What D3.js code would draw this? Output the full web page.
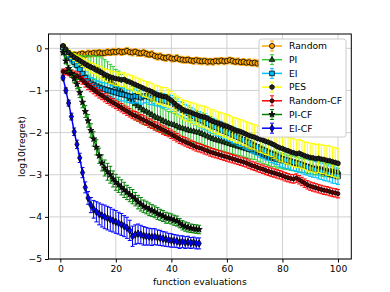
<!DOCTYPE html>
<html>
<head>
<meta charset="utf-8">
<script src="https://cdn.jsdelivr.net/npm/d3@7"></script>
<style>
body { margin: 0; background: #fff; }
svg { display: block; font-family: "DejaVu Sans", sans-serif; }
</style>
</head>
<body>
<script>
// series names, in draw order
const names = ["Random", "PI", "EI", "PES", "Random-CF", "PI-CF", "EI-CF"];

// mean log10(regret) per function evaluation (x = 1..N)
const randomMean = [
  0.05,-0.08,-0.14,-0.16,-0.15,-0.17,-0.14,-0.13,-0.15,-0.12,
  -0.13,-0.11,-0.12,-0.10,-0.12,-0.11,-0.09,-0.10,-0.08,-0.09,
  -0.07,-0.09,-0.08,-0.06,-0.09,-0.10,-0.08,-0.11,-0.12,-0.10,
  -0.13,-0.15,-0.14,-0.18,-0.20,-0.19,-0.22,-0.23,-0.21,-0.24,
  -0.25,-0.23,-0.26,-0.27,-0.28,-0.27,-0.29,-0.30,-0.28,-0.30,
  -0.31,-0.30,-0.32,-0.31,-0.32,-0.30,-0.31,-0.29,-0.31,-0.30,
  -0.28,-0.30,-0.32,-0.31,-0.33,-0.32,-0.34,-0.33,-0.35,-0.34,
  -0.36,-0.35,-0.37,-0.36,-0.38,-0.37,-0.38,-0.39,-0.38,-0.40,
  -0.39,-0.40,-0.41,-0.40,-0.42,-0.41,-0.42,-0.43,-0.42,-0.43,
  -0.44,-0.43,-0.44,-0.45,-0.44,-0.45,-0.46,-0.45,-0.46,-0.47];
const piMean = [
  0.02,-0.08,-0.15,-0.22,-0.28,-0.32,-0.35,-0.38,-0.40,-0.42,
  -0.44,-0.46,-0.49,-0.52,-0.58,-0.65,-0.72,-0.78,-0.85,-0.90,
  -0.96,-1.02,-1.08,-1.13,-1.20,-1.26,-1.32,-1.37,-1.42,-1.47,
  -1.50,-1.54,-1.58,-1.62,-1.65,-1.68,-1.72,-1.75,-1.78,-1.80,
  -1.82,-1.85,-1.88,-1.90,-1.92,-1.94,-1.96,-1.97,-1.99,-2.00,
  -2.03,-2.06,-2.09,-2.12,-2.15,-2.17,-2.19,-2.21,-2.23,-2.25,
  -2.27,-2.29,-2.31,-2.33,-2.35,-2.37,-2.39,-2.41,-2.43,-2.45,
  -2.48,-2.51,-2.54,-2.57,-2.60,-2.62,-2.63,-2.65,-2.66,-2.68,
  -2.69,-2.71,-2.72,-2.74,-2.75,-2.76,-2.78,-2.79,-2.80,-2.82,
  -2.83,-2.84,-2.85,-2.86,-2.88,-2.89,-2.90,-2.91,-2.92,-2.93];
const eiMean = [
  0.02,-0.10,-0.18,-0.25,-0.33,-0.40,-0.50,-0.60,-0.70,-0.78,
  -0.83,-0.87,-0.90,-0.93,-0.95,-0.97,-0.99,-1.01,-1.03,-1.05,
  -1.07,-1.09,-1.10,-1.12,-1.14,-1.15,-1.13,-1.15,-1.17,-1.14,
  -1.13,-1.16,-1.18,-1.19,-1.21,-1.22,-1.24,-1.25,-1.27,-1.29,
  -1.33,-1.38,-1.43,-1.47,-1.50,-1.54,-1.58,-1.61,-1.65,-1.68,
  -1.71,-1.74,-1.78,-1.81,-1.84,-1.87,-1.90,-1.93,-1.96,-1.99,
  -2.02,-2.05,-2.08,-2.11,-2.14,-2.17,-2.21,-2.24,-2.28,-2.31,
  -2.34,-2.38,-2.41,-2.44,-2.47,-2.50,-2.53,-2.56,-2.59,-2.62,
  -2.64,-2.66,-2.68,-2.70,-2.72,-2.74,-2.76,-2.79,-2.81,-2.84,
  -2.86,-2.88,-2.90,-2.92,-2.94,-2.96,-2.98,-3.00,-3.02,-3.04];
const pesMean = [
  0.06,-0.02,-0.10,-0.16,-0.21,-0.25,-0.29,-0.33,-0.37,-0.41,
  -0.45,-0.48,-0.52,-0.55,-0.58,-0.62,-0.65,-0.68,-0.70,-0.72,
  -0.73,-0.75,-0.74,-0.78,-0.80,-0.83,-0.86,-0.89,-0.92,-0.95,
  -0.98,-1.00,-1.03,-1.07,-1.10,-1.12,-1.14,-1.15,-1.19,-1.24,
  -1.30,-1.36,-1.40,-1.45,-1.48,-1.50,-1.52,-1.55,-1.57,-1.60,
  -1.62,-1.63,-1.66,-1.70,-1.73,-1.76,-1.78,-1.80,-1.83,-1.85,
  -1.88,-1.91,-1.94,-1.96,-1.98,-2.01,-2.04,-2.07,-2.09,-2.11,
  -2.14,-2.16,-2.18,-2.21,-2.23,-2.26,-2.29,-2.33,-2.36,-2.38,
  -2.41,-2.43,-2.46,-2.48,-2.50,-2.49,-2.52,-2.55,-2.57,-2.59,
  -2.60,-2.62,-2.61,-2.63,-2.64,-2.66,-2.67,-2.69,-2.71,-2.73];
const randomCfMean = [
  -0.55,-0.56,-0.58,-0.60,-0.62,-0.65,-0.70,-0.76,-0.82,-0.88,
  -0.93,-0.98,-1.03,-1.08,-1.12,-1.17,-1.21,-1.25,-1.29,-1.33,
  -1.37,-1.41,-1.45,-1.49,-1.53,-1.57,-1.60,-1.63,-1.67,-1.70,
  -1.73,-1.77,-1.80,-1.84,-1.87,-1.90,-1.94,-1.97,-2.00,-2.04,
  -2.08,-2.12,-2.16,-2.19,-2.22,-2.25,-2.28,-2.31,-2.34,-2.36,
  -2.38,-2.41,-2.43,-2.46,-2.48,-2.50,-2.52,-2.54,-2.56,-2.58,
  -2.60,-2.62,-2.64,-2.66,-2.68,-2.70,-2.72,-2.75,-2.78,-2.80,
  -2.83,-2.85,-2.87,-2.90,-2.92,-2.94,-2.96,-2.98,-3.00,-3.02,
  -3.05,-3.07,-3.09,-3.10,-3.08,-3.12,-3.16,-3.20,-3.24,-3.27,
  -3.29,-3.31,-3.33,-3.35,-3.37,-3.38,-3.40,-3.42,-3.43,-3.45];
const piCfMean = [
  -0.10,-0.30,-0.48,-0.60,-0.72,-0.85,-1.05,-1.28,-1.50,-1.72,
  -1.95,-2.15,-2.35,-2.55,-2.72,-2.84,-2.93,-3.00,-3.10,-3.18,
  -3.24,-3.30,-3.36,-3.42,-3.47,-3.52,-3.58,-3.65,-3.70,-3.75,
  -3.78,-3.82,-3.85,-3.88,-3.92,-3.95,-3.98,-4.02,-4.03,-4.05,
  -4.08,-4.10,-4.15,-4.20,-4.23,-4.25,-4.27,-4.28,-4.29,-4.30];
const eiCfMean = [
  -0.70,-1.00,-1.30,-1.62,-1.98,-2.28,-2.60,-2.95,-3.30,-3.55,
  -3.72,-3.82,-3.88,-3.93,-3.97,-4.00,-4.03,-4.06,-4.09,-4.12,
  -4.15,-4.18,-4.22,-4.26,-4.32,-4.46,-4.42,-4.40,-4.42,-4.45,
  -4.46,-4.47,-4.48,-4.47,-4.49,-4.50,-4.52,-4.53,-4.55,-4.56,
  -4.57,-4.58,-4.60,-4.59,-4.61,-4.60,-4.62,-4.61,-4.63,-4.63];

// error bar half-heights
const randomErr = [
  0.06,0.07,0.07,0.08,0.07,0.08,0.07,0.08,0.07,0.08,
  0.08,0.07,0.08,0.07,0.08,0.07,0.08,0.07,0.08,0.07,
  0.07,0.08,0.07,0.08,0.07,0.08,0.07,0.08,0.07,0.08,
  0.08,0.07,0.08,0.07,0.08,0.08,0.07,0.08,0.07,0.08,
  0.07,0.08,0.07,0.08,0.07,0.08,0.07,0.08,0.07,0.08,
  0.08,0.07,0.08,0.07,0.08,0.07,0.08,0.07,0.08,0.07,
  0.07,0.08,0.07,0.08,0.07,0.08,0.07,0.08,0.07,0.08,
  0.08,0.07,0.08,0.07,0.08,0.07,0.08,0.07,0.08,0.07,
  0.07,0.08,0.07,0.08,0.07,0.08,0.07,0.08,0.07,0.08,
  0.08,0.07,0.08,0.07,0.08,0.07,0.08,0.07,0.08,0.07];
const piErr = [
  0.05,0.08,0.10,0.12,0.14,0.16,0.18,0.20,0.22,0.24,
  0.26,0.28,0.30,0.33,0.35,0.38,0.40,0.40,0.42,0.40,
  0.42,0.40,0.38,0.40,0.38,0.36,0.38,0.36,0.35,0.34,
  0.33,0.34,0.32,0.31,0.30,0.31,0.30,0.29,0.28,0.29,
  0.28,0.27,0.28,0.27,0.26,0.27,0.26,0.25,0.26,0.25,
  0.25,0.24,0.25,0.24,0.23,0.24,0.23,0.22,0.23,0.22,
  0.22,0.21,0.22,0.21,0.20,0.21,0.20,0.21,0.20,0.19,
  0.20,0.19,0.20,0.19,0.18,0.19,0.18,0.19,0.18,0.18,
  0.18,0.17,0.18,0.17,0.17,0.18,0.17,0.16,0.17,0.16,
  0.17,0.16,0.16,0.17,0.16,0.16,0.15,0.16,0.15,0.15];
const eiErr = [
  0.05,0.07,0.09,0.10,0.11,0.12,0.13,0.13,0.14,0.14,
  0.14,0.15,0.14,0.15,0.14,0.15,0.15,0.14,0.15,0.15,
  0.15,0.16,0.15,0.16,0.15,0.16,0.16,0.15,0.16,0.16,
  0.16,0.17,0.16,0.17,0.16,0.17,0.17,0.16,0.17,0.17,
  0.17,0.18,0.17,0.18,0.17,0.18,0.18,0.17,0.18,0.18,
  0.18,0.19,0.18,0.19,0.18,0.19,0.19,0.18,0.19,0.19,
  0.19,0.20,0.19,0.20,0.19,0.20,0.20,0.19,0.20,0.20,
  0.20,0.21,0.20,0.21,0.20,0.21,0.21,0.20,0.21,0.21,
  0.21,0.20,0.21,0.20,0.21,0.20,0.20,0.21,0.20,0.20,
  0.20,0.19,0.20,0.19,0.20,0.19,0.19,0.20,0.19,0.19];
const pesErr = [
  0.05,0.06,0.07,0.08,0.08,0.09,0.10,0.10,0.11,0.11,
  0.12,0.12,0.13,0.13,0.14,0.14,0.15,0.15,0.15,0.16,
  0.16,0.16,0.17,0.17,0.17,0.18,0.18,0.18,0.19,0.19,
  0.19,0.20,0.20,0.20,0.21,0.21,0.21,0.22,0.22,0.22,
  0.22,0.23,0.23,0.23,0.24,0.24,0.24,0.25,0.25,0.25,
  0.25,0.26,0.26,0.26,0.27,0.27,0.27,0.27,0.28,0.28,
  0.28,0.28,0.29,0.29,0.29,0.29,0.30,0.30,0.30,0.30,
  0.30,0.31,0.31,0.31,0.31,0.31,0.32,0.32,0.32,0.32,
  0.32,0.32,0.33,0.33,0.33,0.33,0.33,0.33,0.34,0.34,
  0.34,0.34,0.34,0.34,0.34,0.35,0.35,0.35,0.35,0.35];
const randomCfErr = [
  0.06,0.07,0.07,0.08,0.08,0.09,0.09,0.09,0.10,0.10,
  0.10,0.10,0.10,0.10,0.10,0.10,0.10,0.10,0.10,0.10,
  0.10,0.10,0.10,0.10,0.10,0.10,0.10,0.10,0.10,0.10,
  0.10,0.10,0.10,0.10,0.10,0.10,0.10,0.10,0.10,0.10,
  0.10,0.10,0.10,0.10,0.10,0.10,0.10,0.10,0.10,0.10,
  0.10,0.10,0.10,0.10,0.10,0.10,0.10,0.10,0.10,0.10,
  0.10,0.10,0.10,0.10,0.10,0.10,0.10,0.10,0.10,0.10,
  0.10,0.10,0.10,0.10,0.10,0.10,0.10,0.10,0.10,0.10,
  0.10,0.10,0.10,0.10,0.10,0.10,0.10,0.10,0.10,0.10,
  0.10,0.10,0.10,0.10,0.10,0.10,0.10,0.10,0.10,0.10];
const piCfErr = [
  0.05,0.07,0.08,0.09,0.10,0.11,0.12,0.13,0.14,0.15,
  0.16,0.17,0.18,0.18,0.19,0.19,0.20,0.20,0.19,0.19,
  0.18,0.18,0.18,0.17,0.17,0.17,0.16,0.16,0.16,0.15,
  0.15,0.15,0.14,0.14,0.14,0.13,0.13,0.13,0.12,0.12,
  0.12,0.12,0.11,0.11,0.11,0.11,0.10,0.10,0.10,0.10];
const eiCfErr = [
  0.05,0.06,0.07,0.08,0.09,0.10,0.11,0.12,0.13,0.15,
  0.18,0.21,0.24,0.26,0.27,0.28,0.28,0.28,0.27,0.27,
  0.26,0.26,0.25,0.25,0.24,0.24,0.23,0.23,0.22,0.22,
  0.21,0.20,0.20,0.19,0.18,0.18,0.17,0.17,0.16,0.16,
  0.15,0.15,0.15,0.14,0.14,0.14,0.13,0.13,0.13,0.13];

const xTicks = [0, 20, 40, 60, 80, 100];
const yTicks = [-5, -4, -3, -2, -1, 0];

const means = [randomMean, piMean, eiMean, pesMean, randomCfMean, piCfMean, eiCfMean];
const errs = [randomErr, piErr, eiErr, pesErr, randomCfErr, piCfErr, eiCfErr];

// styling
const colors = ["orange", "limegreen", "deepskyblue", "yellow", "red", "green", "blue"];
const markerFill = ["orange", "#1f4d1f", "deepskyblue", "#222", "#600", "#111", "blue"];

const hexagon = {
  draw(ctx, size) {
    const r = Math.sqrt(size / 2.598);
    for (let i = 0; i < 6; i++) {
      const a = Math.PI / 6 + i * Math.PI / 3;
      if (i === 0) ctx.moveTo(r * Math.cos(a), r * Math.sin(a));
      else ctx.lineTo(r * Math.cos(a), r * Math.sin(a));
    }
    ctx.closePath();
  }
};
const symbols = [
  d3.symbol(d3.symbolCircle, 20),
  d3.symbol(d3.symbolTriangle, 14),
  d3.symbol(d3.symbolSquare, 22),
  d3.symbol(hexagon, 16),
  d3.symbol(d3.symbolCircle, 12),
  d3.symbol(d3.symbolStar, 12),
  d3.symbol(d3.symbolDiamond, 16)
];

const width = 390, height = 292;
const plotL = 48.5, plotR = 351.3, plotT = 34, plotB = 259;

const svg = d3.select("body").append("svg")
    .attr("width", width)
    .attr("height", height);

const x = d3.scaleLinear().domain([-4.25, 104.79]).range([plotL, plotR]);
const y = d3.scaleLinear().domain([-5, 0.34]).range([plotB, plotT]);

// grid
svg.append("g").selectAll("line")
    .data(xTicks)
    .enter().append("line")
    .attr("x1", d => x(d)).attr("x2", d => x(d))
    .attr("y1", plotT).attr("y2", plotB)
    .attr("stroke", "#d0d0d0").attr("stroke-width", 1);
svg.append("g").selectAll("line")
    .data(yTicks)
    .enter().append("line")
    .attr("x1", plotL).attr("x2", plotR)
    .attr("y1", d => y(d)).attr("y2", d => y(d))
    .attr("stroke", "#d0d0d0").attr("stroke-width", 1);

// series
const line = d3.line().x(d => x(d.x)).y(d => y(d.y));

means.forEach((m, k) => {
  const pts = m.map((v, i) => ({ x: i + 1, y: v, e: errs[k][i] }));
  const g = svg.append("g");
  const c = colors[k];

  const bars = g.selectAll(".bar").data(pts).enter().append("g");
  bars.append("line")
      .attr("x1", d => x(d.x)).attr("x2", d => x(d.x))
      .attr("y1", d => y(d.y - d.e)).attr("y2", d => y(d.y + d.e))
      .attr("stroke", c).attr("stroke-width", 1);
  bars.append("line")
      .attr("x1", d => x(d.x) - 2).attr("x2", d => x(d.x) + 2)
      .attr("y1", d => y(d.y - d.e)).attr("y2", d => y(d.y - d.e))
      .attr("stroke", c).attr("stroke-width", 1);
  bars.append("line")
      .attr("x1", d => x(d.x) - 2).attr("x2", d => x(d.x) + 2)
      .attr("y1", d => y(d.y + d.e)).attr("y2", d => y(d.y + d.e))
      .attr("stroke", c).attr("stroke-width", 1);

  g.append("path")
      .datum(pts)
      .attr("d", line)
      .attr("fill", "none")
      .attr("stroke", c)
      .attr("stroke-width", 1.5);

  g.selectAll(".mk").data(pts).enter().append("path")
      .attr("transform", d => `translate(${x(d.x)},${y(d.y)})`)
      .attr("d", symbols[k])
      .attr("fill", markerFill[k])
      .attr("stroke", "black")
      .attr("stroke-width", 0.8);
});

// frame
svg.append("rect")
    .attr("x", plotL).attr("y", plotT)
    .attr("width", plotR - plotL).attr("height", plotB - plotT)
    .attr("fill", "none").attr("stroke", "black").attr("stroke-width", 1);

// axes
const xAxis = svg.append("g")
    .attr("transform", `translate(0,${plotB})`)
    .call(d3.axisBottom(x).tickValues(xTicks).tickSize(3.5).tickPadding(3));
const yAxis = svg.append("g")
    .attr("transform", `translate(${plotL},0)`)
    .call(d3.axisLeft(y).tickValues(yTicks).tickSize(3.5).tickPadding(3)
      .tickFormat(d => d < 0 ? "\u2212" + Math.abs(d) : d));
[xAxis, yAxis].forEach(a => {
  a.select(".domain").remove();
  a.selectAll("text").attr("font-family", "DejaVu Sans").attr("font-size", "9.2px").attr("fill", "#000");
  a.selectAll("line").attr("stroke", "#000");
});

svg.append("text")
    .attr("x", (plotL + plotR) / 2).attr("y", 285)
    .attr("text-anchor", "middle")
    .attr("font-size", "9.2px")
    .text("function evaluations");
svg.append("text")
    .attr("transform", `translate(25,${(plotT + plotB) / 2}) rotate(-90)`)
    .attr("text-anchor", "middle")
    .attr("font-size", "9.2px")
    .text("log10(regret)");

// legend
const lg = svg.append("g");
lg.append("rect")
    .attr("x", 259).attr("y", 39).attr("width", 87).attr("height", 98)
    .attr("rx", 2.5)
    .attr("fill", "white").attr("stroke", "#cccccc").attr("stroke-width", 1);
names.forEach((n, k) => {
  const cy = 46 + k * 13.7;
  const c = colors[k];
  lg.append("line").attr("x1", 262).attr("x2", 282).attr("y1", cy).attr("y2", cy)
      .attr("stroke", c).attr("stroke-width", 1.5);
  lg.append("line").attr("x1", 272).attr("x2", 272).attr("y1", cy - 5).attr("y2", cy + 5)
      .attr("stroke", c).attr("stroke-width", 1);
  lg.append("line").attr("x1", 270).attr("x2", 274).attr("y1", cy - 5).attr("y2", cy - 5)
      .attr("stroke", c).attr("stroke-width", 1);
  lg.append("line").attr("x1", 270).attr("x2", 274).attr("y1", cy + 5).attr("y2", cy + 5)
      .attr("stroke", c).attr("stroke-width", 1);
  lg.append("path")
      .attr("transform", `translate(272,${cy})`)
      .attr("d", symbols[k])
      .attr("fill", markerFill[k]).attr("stroke", "black").attr("stroke-width", 0.8);
  lg.append("text")
      .attr("x", 289).attr("y", cy + 3.3)
      .attr("font-size", "9.2px")
      .text(n);
});
</script>
</body>
</html>
